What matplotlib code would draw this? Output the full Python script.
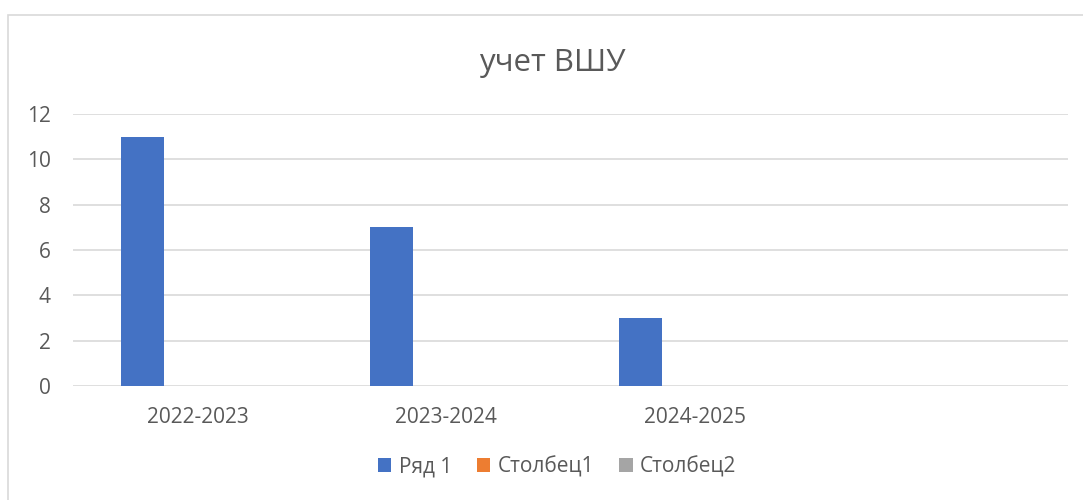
import numpy as np
import matplotlib.pyplot as plt
from matplotlib.patches import Rectangle

plt.rcParams['font.family'] = ['Open Sans', 'DejaVu Sans']

categories = ['2022-2023', '2023-2024', '2024-2025', '']
series_names = ['Ряд 1', 'Столбец1', 'Столбец2']
row1 = [11, 7, 3, 0]
col1 = [0, 0, 0, 0]
col2 = [0, 0, 0, 0]
colors = ['#4472C4', '#ED7D31', '#A5A5A5']
yticks = [0, 2, 4, 6, 8, 10, 12]

fig = plt.figure(figsize=(10.83, 5), dpi=100)
# chart border (Excel chart area)
fig.patches.append(Rectangle((8 / 1083, -0.1), 1.2, (485 / 500) + 0.1,
                             transform=fig.transFigure, fill=False,
                             edgecolor='#d9d9d9', linewidth=1.2))

ax = fig.add_axes([73 / 1083, 114 / 500, 995 / 1083, 272 / 500])
x = np.arange(len(categories))
width = 0.1745
step = 0.2195
for i, (name, vals) in enumerate(zip(series_names, [row1, col1, col2])):
    ax.bar(x + (i - 1) * step, vals, width, color=colors[i], label=name, zorder=3)

ax.set_xlim(-0.5, len(categories) - 0.5)
ax.set_ylim(0, 12)
ax.set_yticks(yticks)
ax.set_xticks(x)
ax.set_xticklabels(categories)
ax.grid(axis='y', color='#d9d9d9', linewidth=1.2, zorder=0)
for s in ax.spines.values():
    s.set_visible(False)
ax.tick_params(axis='both', length=0, labelsize=15, labelcolor='#595959')
ax.tick_params(axis='y', pad=16)
ax.tick_params(axis='x', pad=15)

fig.text(552 / 1083, 437 / 500, 'учет ВШУ', ha='center', va='center',
         fontsize=22.5, color='#595959')

fig.legend(loc='center', bbox_to_anchor=(557 / 1083, 33 / 500), ncol=3,
           frameon=False, fontsize=15, labelcolor='#595959',
           handlelength=0.65, handleheight=0.65, handletextpad=0.35,
           columnspacing=1.2)

fig.savefig('out.png', dpi=100)
